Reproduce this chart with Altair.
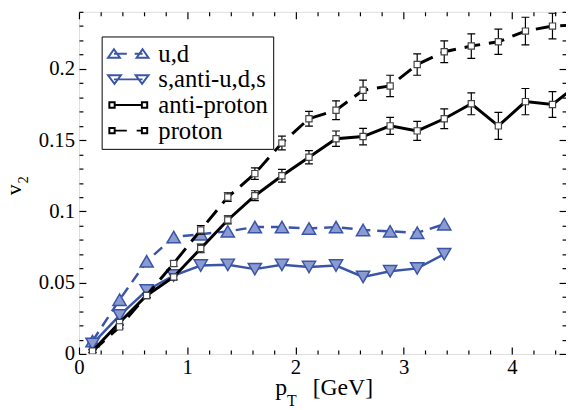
import altair as alt
import pandas as pd

# ---------------- data ----------------
pt_quark = [0.125, 0.375, 0.625, 0.875, 1.125, 1.375, 1.625, 1.875,
            2.125, 2.375, 2.625, 2.875, 3.125, 3.375]
v2_ud = [0.009, 0.038, 0.065, 0.082, 0.084, 0.086, 0.089, 0.089,
         0.088, 0.089, 0.087, 0.086, 0.085, 0.091]
v2_s = [0.007, 0.027, 0.0445, 0.055, 0.062, 0.0625, 0.0595, 0.0625,
        0.061, 0.062, 0.054, 0.058, 0.060, 0.070]

pt_proton = [0.125, 0.375, 0.625, 0.875, 1.125, 1.375, 1.625, 1.875,
             2.125, 2.375, 2.625, 2.875, 3.125, 3.375, 3.625, 3.875,
             4.125, 4.375, 4.625]
v2_antiproton = [0.002, 0.022, 0.041, 0.054, 0.074, 0.094, 0.111, 0.125,
                 0.138, 0.151, 0.1525, 0.160, 0.1565, 0.165, 0.1755, 0.160,
                 0.177, 0.175, 0.190]
err_antiproton = [0.001, 0.0015, 0.0015, 0.002, 0.003, 0.0028, 0.0035, 0.0045,
                  0.0046, 0.0054, 0.0058, 0.006, 0.0067, 0.0069, 0.0077, 0.0095,
                  0.0092, 0.009, 0.009]
v2_proton = [0.002, 0.019, 0.041, 0.0635, 0.087, 0.110, 0.1265, 0.148,
             0.165, 0.171, 0.185, 0.188, 0.203, 0.212, 0.216, 0.219,
             0.2265, 0.230, 0.231]
err_proton = [0.001, 0.001, 0.0015, 0.002, 0.003, 0.003, 0.004, 0.0048,
              0.0052, 0.0066, 0.0071, 0.0075, 0.0075, 0.0076, 0.0086, 0.0089,
              0.0097, 0.009, 0.009]

series_labels = ["u,d", "s,anti-u,d,s", "anti-proton", "proton"]

x_major = [0, 1, 2, 3, 4]
x_minor = [0.2, 0.4, 0.6, 0.8, 1.2, 1.4, 1.6, 1.8, 2.2, 2.4, 2.6, 2.8,
           3.2, 3.4, 3.6, 3.8, 4.2, 4.4]
y_major = [0, 0.05, 0.1, 0.15, 0.2]
y_minor = [0.01, 0.02, 0.03, 0.04, 0.06, 0.07, 0.08, 0.09, 0.11, 0.12,
           0.13, 0.14, 0.16, 0.17, 0.18, 0.19, 0.21, 0.22, 0.23, 0.24]

x_title_parts = ["p", "T", "[GeV]"]
y_title_parts = ["v", "2"]

# ---------------- styling ----------------
FONT = "'Liberation Serif', 'Times New Roman', 'DejaVu Serif', serif"
BLUE = "#3a55a8"
LIGHT = "#8b9bd1"
W, H = 494, 347

xs = alt.Scale(domain=[0, 4.5], nice=False, zero=False)
ys = alt.Scale(domain=[0, 0.24], nice=False, zero=False)


def axis(orient, values, size, labels, pad=3):
    kw = dict(orient=orient, values=values, tickSize=size, offset=-size,
              domain=False, grid=False, labels=labels, ticks=True,
              tickColor="black", tickWidth=1.2, title=None)
    if labels:
        kw.update(labelFont=FONT, labelFontSize=21, labelColor="black",
                  labelPadding=pad, format="~g", labelFlush=False,
                  labelOverlap=False)
    return alt.Axis(**kw)


ax_b = axis("bottom", x_major, 7, True, 3)
ax_b_min = axis("bottom", x_minor, 4, False)
ax_t = axis("top", x_major, 7, False)
ax_t_min = axis("top", x_minor, 4, False)
ax_l = axis("left", y_major, 7, True, 4.5)
ax_l_min = axis("left", y_minor, 4, False)
ax_r = axis("right", y_major, 7, False)
ax_r_min = axis("right", y_minor, 4, False)

df_ud = pd.DataFrame({"pt": pt_quark, "v2": v2_ud})
df_s = pd.DataFrame({"pt": pt_quark, "v2": v2_s})
df_ap = pd.DataFrame({"pt": pt_proton, "v2": v2_antiproton, "err": err_antiproton})
df_p = pd.DataFrame({"pt": pt_proton, "v2": v2_proton, "err": err_proton})
for d in (df_ap, df_p):
    d["lo"] = d["v2"] - d["err"]
    d["hi"] = d["v2"] + d["err"]


def X(ax=None):
    return alt.X("pt:Q", scale=xs, axis=ax)


def Y(ax=None, field="v2"):
    return alt.Y(field + ":Q", scale=ys, axis=ax)


# quark lines / points
ud_line = alt.Chart(df_ud).mark_line(color=BLUE, strokeWidth=2.5, strokeDash=[11, 7]).encode(
    x=X(ax_b), y=Y(ax_l))
ud_pts = alt.Chart(df_ud).mark_point(shape="triangle-up", size=180, filled=True, fill=LIGHT,
                                     stroke=BLUE, strokeWidth=1.5, opacity=1).encode(x=X(), y=Y())
s_line = alt.Chart(df_s).mark_line(color=BLUE, strokeWidth=2.5).encode(
    x=X(ax_b_min), y=Y(ax_l_min))
s_pts = alt.Chart(df_s).mark_point(shape="triangle-down", size=180, filled=True, fill=LIGHT,
                                   stroke=BLUE, strokeWidth=1.5, opacity=1).encode(x=X(), y=Y())


def proton_layers(df, dash, ax_x, ax_y):
    rule = alt.Chart(df).mark_rule(color="black", strokeWidth=1.2, clip=True).encode(
        x=X(), y=Y(None, "lo"), y2="hi:Q")
    cap_lo = alt.Chart(df).mark_tick(orient="horizontal", size=8, thickness=1.2, color="black",
                                     opacity=1, clip=True).encode(x=X(), y=Y(None, "lo"))
    cap_hi = alt.Chart(df).mark_tick(orient="horizontal", size=8, thickness=1.2, color="black",
                                     opacity=1, clip=True).encode(x=X(), y=Y(None, "hi"))
    lkw = dict(color="black", strokeWidth=3, clip=True)
    if dash:
        lkw["strokeDash"] = dash
    line = alt.Chart(df).mark_line(**lkw).encode(x=X(ax_x), y=Y(ax_y))
    pts = alt.Chart(df).mark_point(shape="square", size=40, filled=True, fill="white",
                                   stroke="#444444", strokeWidth=1.2, opacity=1,
                                   clip=True).encode(x=X(), y=Y())
    return [rule, cap_lo, cap_hi, line, pts]


ap_layers = proton_layers(df_ap, None, ax_t, ax_r)
p_layers = proton_layers(df_p, [16, 9], ax_t_min, ax_r_min)


# legend symbols (line + two markers) as custom paths
def tri_up(cx):
    return f"M{cx},-0.45L{cx + 0.6},0.4L{cx - 0.6},0.4Z"


def tri_dn(cx):
    return f"M{cx},0.45L{cx + 0.65},-0.42L{cx - 0.65},-0.42Z"


def sq(cx):
    return f"M{cx - 0.27},-0.27L{cx + 0.27},-0.27L{cx + 0.27},0.27L{cx - 0.27},0.27Z"


legend_paths = [
    "M-1.45,0L-0.15,0M0.65,0L1.45,0" + tri_up(-1.45) + tri_up(1.45),
    "M-1.45,0L1.45,0" + tri_dn(-1.4) + tri_dn(1.4),
    "M-1.38,0L1.38,0" + sq(-1.65) + sq(1.65),
    "M-1.38,0L-0.15,0M0.85,0L1.38,0" + sq(-1.65) + sq(1.65),
]
legend_fill = [LIGHT, LIGHT, "white", "white"]
legend_stroke = [BLUE, BLUE, "black", "black"]

df_leg = pd.concat([
    df_ud.assign(series=series_labels[0]),
    df_s.assign(series=series_labels[1]),
    df_ap[["pt", "v2"]].assign(series=series_labels[2]),
    df_p[["pt", "v2"]].assign(series=series_labels[3]),
])

leg = alt.Legend(title=None, orient="none", legendX=23, legendY=25, symbolSize=400,
                 symbolStrokeWidth=2, symbolOffset=9.5, labelOffset=18,
                 labelFont=FONT, labelFontSize=25, labelColor="black", labelLimit=0,
                 padding=5, rowPadding=0, strokeColor="black", fillColor="white",
                 cornerRadius=0)
legend_layer = alt.Chart(df_leg).mark_point(opacity=0, clip=True).encode(
    x=X(), y=Y(),
    shape=alt.Shape("series:N", scale=alt.Scale(domain=series_labels, range=legend_paths), legend=leg),
    fill=alt.Fill("series:N", scale=alt.Scale(domain=series_labels, range=legend_fill), legend=leg),
    stroke=alt.Stroke("series:N", scale=alt.Scale(domain=series_labels, range=legend_stroke), legend=leg),
)

# axis titles with sub-scripts
one = pd.DataFrame({"k": [0]})
tx_p = alt.Chart(one).mark_text(text=x_title_parts[0], font=FONT, fontSize=24, align="left",
                                baseline="alphabetic", color="black").encode(
    x=alt.value(199), y=alt.value(389))
tx_T = alt.Chart(one).mark_text(text=x_title_parts[1], font=FONT, fontSize=16, align="left",
                                baseline="alphabetic", color="black").encode(
    x=alt.value(211), y=alt.value(400))
tx_g = alt.Chart(one).mark_text(text=x_title_parts[2], font=FONT, fontSize=24, align="left",
                                baseline="alphabetic", color="black").encode(
    x=alt.value(237), y=alt.value(389))
ty_v = alt.Chart(one).mark_text(text=y_title_parts[0], font=FONT, fontSize=22, align="left",
                                baseline="alphabetic", angle=270, color="black").encode(
    x=alt.value(-58.5), y=alt.value(186))
ty_2 = alt.Chart(one).mark_text(text=y_title_parts[1], font=FONT, fontSize=15, align="left",
                                baseline="alphabetic", angle=270, color="black").encode(
    x=alt.value(-52), y=alt.value(174))

chart = alt.layer(
    ud_line, ud_pts, s_line, s_pts,
    *ap_layers, *p_layers,
    legend_layer,
    tx_p, tx_T, tx_g, ty_v, ty_2,
).resolve_axis(x="independent", y="independent").properties(
    width=W, height=H,
    autosize=alt.AutoSizeParams(type="none"),
    padding={"left": 72, "top": 1, "right": 0, "bottom": 56},
).configure_view(stroke="black", strokeWidth=1.5).configure(background="white")

chart.save("out.html", embed_options={"renderer": "svg", "actions": False})
